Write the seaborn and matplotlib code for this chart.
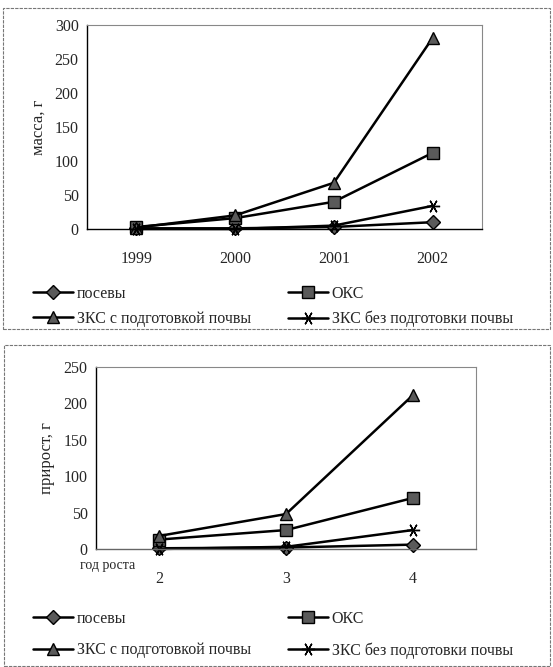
import numpy as np
import pandas as pd
import seaborn as sns
import matplotlib.pyplot as plt
from matplotlib.patches import Rectangle

# --- data ---
years = ["1999", "2000", "2001", "2002"]
growth_years = ["2", "3", "4"]
series = ["посевы", "ОКС", "ЗКС с подготовкой почвы", "ЗКС без подготовки почвы"]

mass_posevy = [1, 1, 3, 10]
mass_oks = [3, 16, 40, 112]
mass_zks_prep = [2, 20, 68, 281]
mass_zks_noprep = [0, 0, 5, 34]

gain_posevy = [1, 2, 6]
gain_oks = [13, 26, 70]
gain_zks_prep = [18, 48, 211]
gain_zks_noprep = [0, 3, 26]

markers = {series[0]: "D", series[1]: "s", series[2]: "^", series[3]: (6, 2, 90)}
msizes = {series[0]: 7, series[1]: 8.5, series[2]: 8.5, series[3]: 9.5}

sns.set_style("white")
plt.rcParams["font.family"] = ["Liberation Serif", "DejaVu Serif"]
plt.rcParams["font.size"] = 11.5

W, H = 553, 667
fig = plt.figure(figsize=(W / 100, H / 100), dpi=100)


def px_axes(left, top, right, bottom):
    return fig.add_axes([left / W, 1 - bottom / H, (right - left) / W, (bottom - top) / H])


def long_df(cats, cols):
    df = pd.DataFrame({s: v for s, v in zip(series, cols)})
    df["pos"] = np.arange(len(cats))
    return df.melt(id_vars="pos", var_name="series", value_name="value")


def draw(ax, cats, cols, ymax, ylabel):
    d = long_df(cats, cols)
    for s in series:
        sub = d[d["series"] == s]
        sns.lineplot(data=sub, x="pos", y="value", ax=ax, color="black", lw=1.8,
                     marker=markers[s], markersize=msizes[s],
                     markerfacecolor="#5a5a5a", markeredgecolor="black",
                     markeredgewidth=1.0, legend=False)
    ax.set_xlim(-0.5, len(cats) - 0.5)
    ax.set_ylim(0, ymax)
    ax.set_yticks(np.arange(0, ymax + 1, 50))
    ax.set_xticks(np.arange(len(cats)))
    ax.set_xticklabels(cats)
    ax.set_xticks(np.arange(len(cats) + 1) - 0.5, minor=True)
    ax.tick_params(axis="x", which="major", length=0, pad=16)
    ax.tick_params(axis="x", which="minor", length=5, width=0.8, direction="out", color="black")
    ax.tick_params(axis="y", length=4, width=0.8, direction="out", color="black", pad=2)
    ax.set_xlabel("")
    ax.set_ylabel(ylabel, labelpad=6, fontsize=12)
    for side in ["top", "right"]:
        ax.spines[side].set_color("#888888")
        ax.spines[side].set_linewidth(0.8)
        ax.spines[side].set_linestyle((0, (2, 1)))
    ax.spines["left"].set_color("black")
    ax.spines["left"].set_linewidth(1.0)
    ax.spines["bottom"].set_color("black")
    ax.spines["bottom"].set_linewidth(1.0)
    for ln in ax.lines:
        ln.set_clip_on(False)


def legend(ax, top_px, spacing):
    h = ax.lines
    order = [0, 2, 1, 3]
    fig.legend([h[i] for i in order], [series[i] for i in order],
               loc="upper left", bbox_to_anchor=(33 / W, 1 - top_px / H),
               ncol=2, frameon=False, borderpad=0, borderaxespad=0,
               handlelength=2.5, handletextpad=0.25, columnspacing=2.3,
               labelspacing=spacing, fontsize=11.5)


ax1 = px_axes(87, 25, 482, 229)
draw(ax1, years, [mass_posevy, mass_oks, mass_zks_prep, mass_zks_noprep], 300, "масса, г")
legend(ax1, 286, 0.55)

ax2 = px_axes(96, 367, 476, 549)
draw(ax2, growth_years, [gain_posevy, gain_oks, gain_zks_prep, gain_zks_noprep], 250, "прирост, г")
ax2.spines["bottom"].set_color("#666666")
ax2.spines["bottom"].set_linestyle((0, (2, 1)))
legend(ax2, 611, 0.95)
fig.text(80 / W, 1 - 566 / H, "год роста", fontsize=10, va="center", ha="left")

# chart frames
fig.patches.append(Rectangle((3 / W, 1 - 329 / H), 547 / W, 321 / H, transform=fig.transFigure,
                             fill=False, edgecolor="#777777", lw=0.8, ls=(0, (3, 1))))
fig.patches.append(Rectangle((4 / W, 1 - 666 / H), 546 / W, 321 / H, transform=fig.transFigure,
                             fill=False, edgecolor="#777777", lw=0.8, ls=(0, (3, 1))))

fig.savefig("out.png", dpi=100)
